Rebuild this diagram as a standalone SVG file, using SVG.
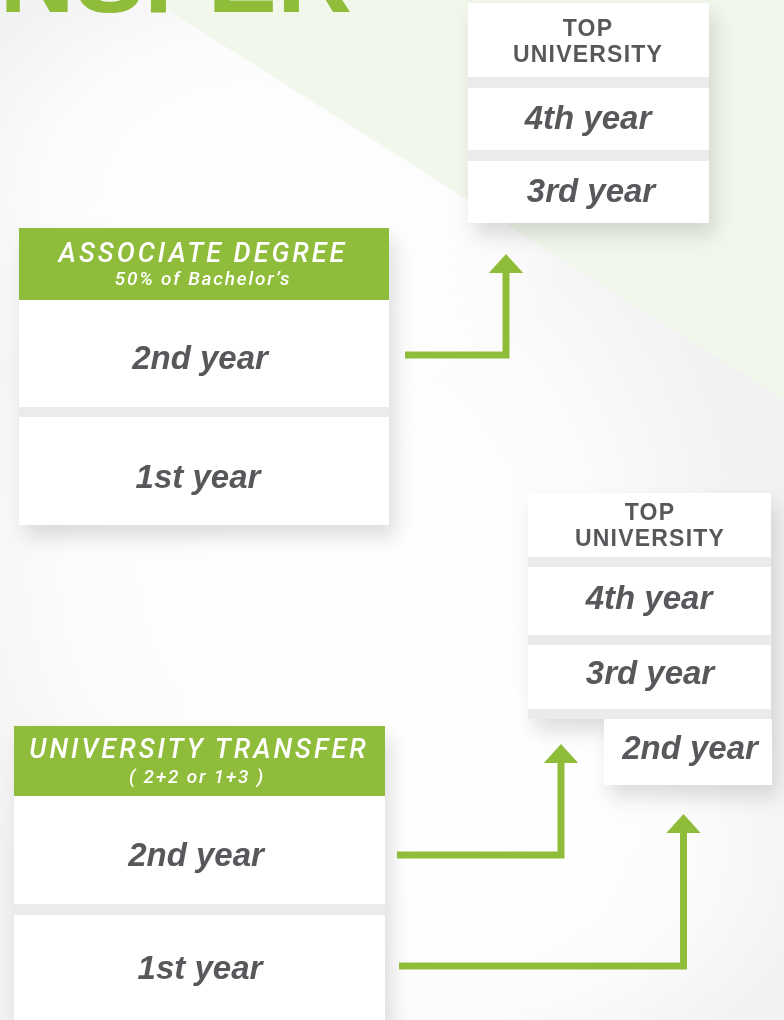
<svg xmlns="http://www.w3.org/2000/svg" width="784" height="1020" viewBox="0 0 784 1020">
<defs>
<style>
.row{fill:#ffffff}
.sep{fill:#ebebeb}
.hdr{fill:#8fbd3a}
.yr{font-family:"Liberation Sans",Arial,sans-serif;font-weight:bold;font-style:italic;font-size:33px;fill:#58595b;text-anchor:middle}
.top{font-family:"Liberation Sans",Arial,sans-serif;font-weight:bold;font-size:23px;fill:#58595b;text-anchor:middle;letter-spacing:1.2px}
.h1{font-family:Roboto,"Liberation Sans",Arial,sans-serif;font-weight:500;font-style:italic;font-size:27px;fill:#ffffff;text-anchor:middle;letter-spacing:3px}
.h2{font-family:Roboto,"Liberation Sans",Arial,sans-serif;font-weight:500;font-style:italic;font-size:19px;fill:#ffffff;text-anchor:middle;letter-spacing:1.8px}
.conn{fill:none;stroke:#8fbd3a;stroke-width:7}
</style>
<filter id="sh" x="-20%" y="-20%" width="150%" height="150%">
<feDropShadow dx="6" dy="12" stdDeviation="10" flood-color="#000" flood-opacity="0.13"/>
</filter>
<radialGradient id="glow" cx="0.5" cy="0.5" r="0.5">
<stop offset="0" stop-color="#ffffff" stop-opacity="1"/>
<stop offset="0.6" stop-color="#ffffff" stop-opacity="0.8"/>
<stop offset="1" stop-color="#ffffff" stop-opacity="0"/>
</radialGradient>
<marker id="ah" viewBox="0 0 10 10" refX="0" refY="5" markerWidth="2.7" markerHeight="4.9" orient="auto" markerUnits="strokeWidth" preserveAspectRatio="none">
<path d="M0,0 L10,5 L0,10 Z" fill="#8fbd3a"/>
</marker>
</defs>
<rect x="0" y="0" width="784" height="1020" fill="#f2f2f2"/>
<ellipse cx="330" cy="560" rx="420" ry="460" fill="url(#glow)"/>
<ellipse cx="450" cy="850" rx="380" ry="260" fill="url(#glow)"/>
<ellipse cx="250" cy="200" rx="330" ry="260" fill="url(#glow)"/>
<polygon points="152,0 784,0 784,400" fill="#f1f7ea"/>
<text x="352" y="12" font-family="Liberation Sans,Arial,sans-serif" font-weight="bold" font-size="104" fill="#8fbd3a" text-anchor="end">TRANSFER</text>

<g id="top-university-1" filter="url(#sh)">
<rect class="row" x="468" y="3" width="241" height="74"/>
<rect class="sep" x="468" y="77" width="241" height="11"/>
<rect class="row" x="468" y="88" width="241" height="62"/>
<rect class="sep" x="468" y="150" width="241" height="11"/>
<rect class="row" x="468" y="161" width="241" height="62"/>
<text class="top" x="588" y="36">TOP</text>
<text class="top" x="588" y="62">UNIVERSITY</text>
<text class="yr" x="588" y="129">4th year</text>
<text class="yr" x="591" y="202">3rd year</text>
</g>

<g id="associate-degree" filter="url(#sh)">
<rect class="hdr" x="19" y="228" width="370" height="72"/>
<rect class="row" x="19" y="300" width="370" height="107"/>
<rect class="sep" x="19" y="407" width="370" height="10"/>
<rect class="row" x="19" y="417" width="370" height="108"/>
<text class="h1" x="203" y="262">ASSOCIATE DEGREE</text>
<text class="h2" x="203" y="285">50% of Bachelor’s</text>
<text class="yr" x="200" y="369">2nd year</text>
<text class="yr" x="198" y="488">1st year</text>
</g>

<g id="top-university-2" filter="url(#sh)">
<rect class="row" x="528" y="493" width="243" height="64"/>
<rect class="sep" x="528" y="557" width="243" height="10"/>
<rect class="row" x="528" y="567" width="243" height="68"/>
<rect class="sep" x="528" y="635" width="243" height="10"/>
<rect class="row" x="528" y="645" width="243" height="64"/>
<rect class="sep" x="528" y="709" width="243" height="10"/>
<rect class="row" x="604" y="719" width="168" height="66"/>
<text class="top" x="650" y="520">TOP</text>
<text class="top" x="650" y="546">UNIVERSITY</text>
<text class="yr" x="649" y="609">4th year</text>
<text class="yr" x="650" y="684">3rd year</text>
<text class="yr" x="690" y="759">2nd year</text>
</g>

<g id="university-transfer" filter="url(#sh)">
<rect class="hdr" x="14" y="726" width="371" height="70"/>
<rect class="row" x="14" y="796" width="371" height="108"/>
<rect class="sep" x="14" y="904" width="371" height="11"/>
<rect class="row" x="14" y="915" width="371" height="110"/>
<text class="h1" x="199" y="758">UNIVERSITY TRANSFER</text>
<text class="h2" x="197" y="783">( 2+2 or 1+3 )</text>
<text class="yr" x="196" y="866">2nd year</text>
<text class="yr" x="200" y="979">1st year</text>
</g>

<g id="connectors">
<path class="conn" d="M405,355 H506 V273" marker-end="url(#ah)"/>
<path class="conn" d="M397,855 H561 V763" marker-end="url(#ah)"/>
<path class="conn" d="M399,966 H683.5 V833" marker-end="url(#ah)"/>
</g>
</svg>
